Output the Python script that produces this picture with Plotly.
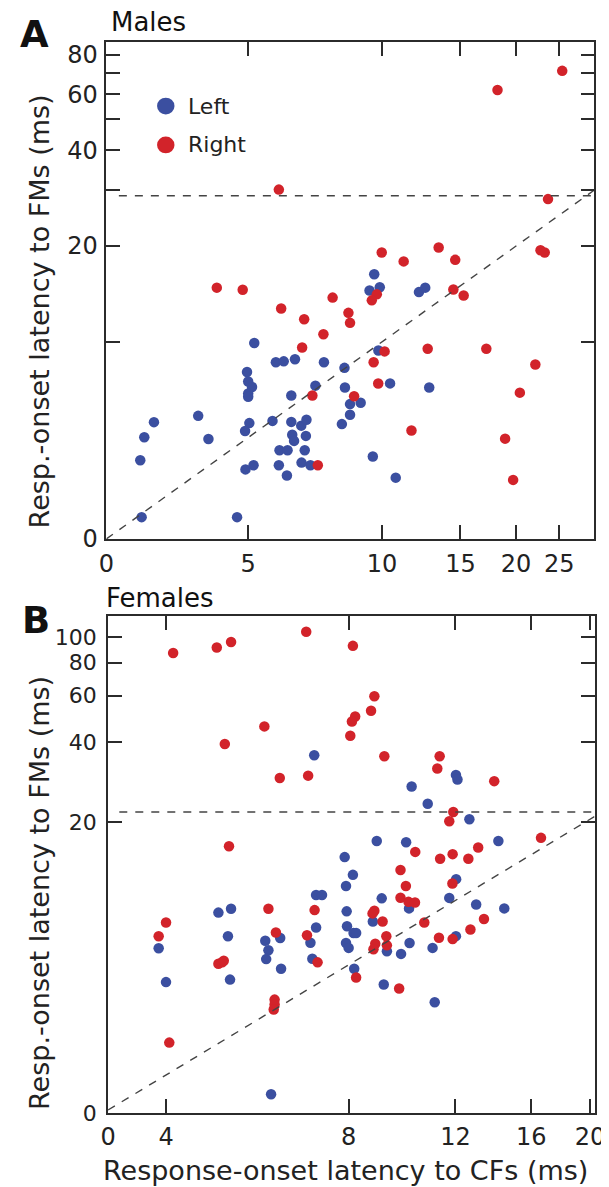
import plotly.graph_objects as go
import numpy as np

# figure size in px
W, H = 609, 1187

# ---- data (ms) ----
# Males, left hemisphere: CF latency, FM latency
males_left_cf = [5.16, 5.77, 6.01, 6.37, 7.40, 8.23, 4.97, 5.00, 5.10, 5.00, 5.00, 6.25, 7.08, 8.25,
                 3.86, 3.07, 2.92, 4.07, 2.86, 5.03, 4.92, 5.67, 6.25, 6.58, 6.76, 6.28, 6.34, 6.74,
                 5.88, 6.13, 6.70, 5.86, 6.11, 6.59, 6.90, 4.93, 5.14, 2.88, 4.72, 8.12,
                 9.60, 9.37, 9.88, 12.1, 12.5, 9.81, 8.47, 8.95, 8.47, 10.42, 12.76, 9.53, 10.73]
males_left_fm = [9.91, 8.62, 8.68, 8.81, 8.62, 8.28, 8.04, 7.50, 7.21, 6.88, 6.72, 6.78, 7.28, 7.18,
                 5.85, 5.59, 5.01, 4.95, 4.24, 5.55, 5.24, 5.64, 5.60, 5.45, 5.69, 5.10, 4.88, 5.06,
                 4.56, 4.56, 4.56, 4.09, 3.80, 4.17, 4.09, 3.97, 4.09, 2.81, 2.81, 5.51,
                 16.3, 14.5, 14.85, 14.33, 14.8, 9.39, 6.37, 6.43, 5.90, 7.40, 7.18, 4.36, 3.74]
# Males, right hemisphere
males_right_cf = [5.86, 4.25, 4.86, 5.93, 6.68, 7.74, 7.38, 6.61, 6.97, 7.17, 23.6, 22.7, 23.2, 13.4,
                  9.98, 11.18, 14.6, 14.46, 15.25, 9.73, 9.48, 8.40, 8.47, 10.13, 12.66, 17.15, 22.1,
                  9.57, 9.80, 20.4, 8.65, 11.64, 18.9, 19.7, 18.17, 25.4]
males_right_fm = [30.1, 14.8, 14.57, 12.72, 11.78, 13.77, 10.56, 9.60, 6.78, 4.09, 28.1, 19.4, 19.1, 19.8,
                  19.1, 17.9, 18.1, 14.6, 13.99, 14.1, 13.5, 12.33, 11.47, 9.33, 9.51, 9.51, 8.48,
                  8.62, 7.39, 6.92, 6.74, 5.26, 4.96, 3.68, 61.9, 71.1]

# Females, left hemisphere
females_left_cf = [7.02, 7.88, 8.13, 7.92, 7.07, 7.23, 7.94, 7.95, 7.92, 8.00, 4.88, 5.12, 5.06, 5.10,
                   3.89, 4.00, 5.83, 5.90, 5.85, 6.17, 6.19, 7.07, 6.92, 6.97, 5.96,
                   10.16, 10.8, 12.02, 12.09, 12.65, 8.90, 9.95, 14.12, 12.03, 9.07, 11.72, 10.06,
                   12.98, 14.44, 8.77, 8.15, 8.23, 9.25, 9.76, 10.08, 11.00, 12.02, 8.17, 9.14, 11.09]
females_left_fm = [35.7, 14.72, 12.61, 11.45, 10.59, 10.59, 9.18, 8.06, 6.97, 6.68, 9.08, 9.39, 7.39, 5.07,
                   6.66, 4.96, 7.11, 6.54, 6.06, 7.28, 5.57, 7.98, 6.99, 6.08, 1.87,
                   27.2, 23.4, 30.1, 28.9, 20.45, 16.92, 16.74, 16.92, 12.15, 10.28, 10.32, 9.42,
                   9.74, 9.42, 8.40, 7.61, 7.61, 6.49, 6.34, 6.97, 6.68, 7.40, 5.57, 4.86, 4.16]
# Females, right hemisphere
females_right_cf = [4.11, 4.85, 5.12, 6.81, 5.81, 5.00, 6.16, 6.86, 5.08, 4.00, 3.89, 4.88, 4.95, 4.98,
                    5.90, 6.07, 6.04, 6.04, 6.02, 4.05, 7.03, 6.83, 7.11,
                    8.13, 8.82, 8.71, 8.20, 8.10, 8.05, 9.16, 11.3, 11.2, 13.9, 11.9, 11.72, 16.6,
                    10.3, 11.32, 11.87, 12.6, 13.08, 9.74, 9.94, 9.74, 10.04, 10.29, 11.86, 8.82,
                    8.76, 9.10, 10.66, 9.23, 8.85, 9.25, 8.79, 11.27, 11.87, 12.7, 13.37, 8.23, 9.69]
females_right_fm = [86.9, 91.2, 95.7, 104.6, 45.9, 39.4, 29.3, 29.9, 16.18, 8.33, 7.39, 5.82, 5.90, 5.97,
                    9.39, 7.64, 4.26, 4.08, 3.91, 2.93, 9.28, 7.46, 5.89,
                    92.5, 59.7, 52.6, 50.0, 47.9, 42.3, 35.4, 35.4, 31.8, 28.5, 21.8, 20.1, 17.4,
                    15.4, 14.51, 15.1, 14.51, 16.0, 13.16, 11.45, 10.34, 9.97, 9.91, 11.7, 9.23,
                    9.02, 8.40, 8.33, 7.39, 6.93, 6.83, 6.60, 7.30, 7.21, 7.84, 8.59, 5.16, 4.69]

# axis extents (ms) and reference lines
males_x_range = [2.4, 30.0]
males_y_range = [2.4, 87.7]
females_x_range = [3.21, 20.35]
females_y_range = [1.59, 120.0]
males_threshold = 28.8
females_threshold = 21.8
females_diag_x = [3.21, 20.35]
females_diag_y = [1.63, 20.97]

# ticks
males_xticks = [2.4, 5, 10, 15, 20, 25]
males_xtext = ["0", "5", "10", "15", "20", "25"]
males_yticks = [2.4, 10, 20, 30, 40, 50, 60, 70, 80]
males_ytext = ["0", "", "20", "", "40", "", "60", "", "80"]
females_xticks = [3.21, 4, 8, 12, 16, 20]
females_xtext = ["0", "4", "8", "12", "16", "20"]
females_yticks = [1.59, 20, 40, 60, 80, 100]
females_ytext = ["0", "20", "40", "60", "80", "100"]

BLUE = "#3b4fa0"
RED = "#d2232a"
INK = "#2b2b2b"
FONT = "DejaVu Sans"
MSIZE = 10.5


def fx(p):
    return p / W


def fy(p):
    return 1 - p / H


fig = go.Figure()

# Males panel
fig.add_trace(go.Scatter(x=males_left_cf, y=males_left_fm, mode="markers",
                         marker=dict(color=BLUE, size=MSIZE), xaxis="x", yaxis="y", showlegend=False))
fig.add_trace(go.Scatter(x=males_right_cf, y=males_right_fm, mode="markers",
                         marker=dict(color=RED, size=MSIZE), xaxis="x", yaxis="y", showlegend=False))
fig.add_trace(go.Scatter(x=males_x_range, y=males_x_range, mode="lines",
                         line=dict(color="#444", width=1.4, dash="8px,8px"), xaxis="x", yaxis="y",
                         showlegend=False))
fig.add_trace(go.Scatter(x=[2.56, males_x_range[1]], y=[males_threshold] * 2, mode="lines",
                         line=dict(color="#444", width=1.4, dash="8px,8px"), xaxis="x", yaxis="y",
                         showlegend=False))

# Females panel
fig.add_trace(go.Scatter(x=females_left_cf, y=females_left_fm, mode="markers",
                         marker=dict(color=BLUE, size=MSIZE), xaxis="x2", yaxis="y2", showlegend=False))
fig.add_trace(go.Scatter(x=females_right_cf, y=females_right_fm, mode="markers",
                         marker=dict(color=RED, size=MSIZE), xaxis="x2", yaxis="y2", showlegend=False))
fig.add_trace(go.Scatter(x=females_diag_x, y=females_diag_y, mode="lines",
                         line=dict(color="#444", width=1.4, dash="8px,8px"), xaxis="x2", yaxis="y2",
                         showlegend=False))
fig.add_trace(go.Scatter(x=[3.35, females_x_range[1]], y=[females_threshold] * 2, mode="lines",
                         line=dict(color="#444", width=1.4, dash="8px,8px"), xaxis="x2", yaxis="y2",
                         showlegend=False))

axis_style = dict(type="log", showgrid=False, zeroline=False, showline=True, linecolor=INK,
                  linewidth=1.6, mirror="ticks", ticks="inside", ticklen=14, tickwidth=1.6,
                  tickcolor=INK, tickfont=dict(family=FONT, size=24, color="#222"))

fig.update_layout(
    width=W, height=H, margin=dict(l=0, r=0, t=0, b=0),
    paper_bgcolor="white", plot_bgcolor="white",
    xaxis=dict(axis_style, domain=[fx(93.3), fx(597)], anchor="y",
               range=list(np.log10(males_x_range)), tickvals=males_xticks, ticktext=males_xtext,
               ticklabelstandoff=2),
    yaxis=dict(axis_style, domain=[fy(536.7), fy(33.3)], anchor="x",
               range=list(np.log10(males_y_range)), tickvals=males_yticks, ticktext=males_ytext,
               ticklabelstandoff=2),
    xaxis2=dict(axis_style, domain=[fx(95), fx(597.3)], anchor="y2",
                range=list(np.log10(females_x_range)), tickvals=females_xticks, ticktext=females_xtext,
                ticklabelstandoff=2),
    yaxis2=dict(axis_style, domain=[fy(1118), fy(614.7)], anchor="x2",
                range=list(np.log10(females_y_range)), tickvals=females_yticks, ticktext=females_ytext,
                ticklabelstandoff=5, tickfont=dict(family=FONT, size=22, color="#222")),
)

# legend drawn by hand (circles + labels)
for yc, col, name in [(98.3, BLUE, "Left"), (137.7, RED, "Right")]:
    fig.add_shape(type="circle", xref="paper", yref="paper",
                  x0=fx(154.6 - 9), x1=fx(154.6 + 9), y0=fy(yc + 8.5), y1=fy(yc - 8.5),
                  fillcolor=col, line=dict(width=0))
    fig.add_annotation(x=fx(175), y=fy(yc), xref="paper", yref="paper", text=name,
                       showarrow=False, xanchor="left", yanchor="middle",
                       font=dict(family=FONT, size=22, color="#222"))

# panel letters and titles
texts = [
    ("A", 2, 26, 37, True),
    ("B", 4, 619, 37, True),
    ("Males", 96, 13, 26, False),
    ("Females", 91, 597, 26, False),
]
for t, x, y, size, bold in texts:
    fig.add_annotation(x=fx(x), y=fy(y), xref="paper", yref="paper",
                       text=f"<b>{t}</b>" if bold else t, showarrow=False,
                       xanchor="left", yanchor="middle", font=dict(family=FONT, size=size, color="#111"))

# axis titles
for yc in (306, 895):
    fig.add_annotation(x=fx(24), y=fy(yc), xref="paper", yref="paper", textangle=-90,
                       text="Resp.-onset latency to FMs (ms)", showarrow=False,
                       xanchor="center", yanchor="middle", font=dict(family=FONT, size=27, color="#222"))
fig.add_annotation(x=fx(340), y=fy(1176), xref="paper", yref="paper",
                   text="Response-onset latency to CFs (ms)", showarrow=False,
                   xanchor="center", yanchor="middle", font=dict(family=FONT, size=27, color="#222"))

fig.write_html("out.html")
